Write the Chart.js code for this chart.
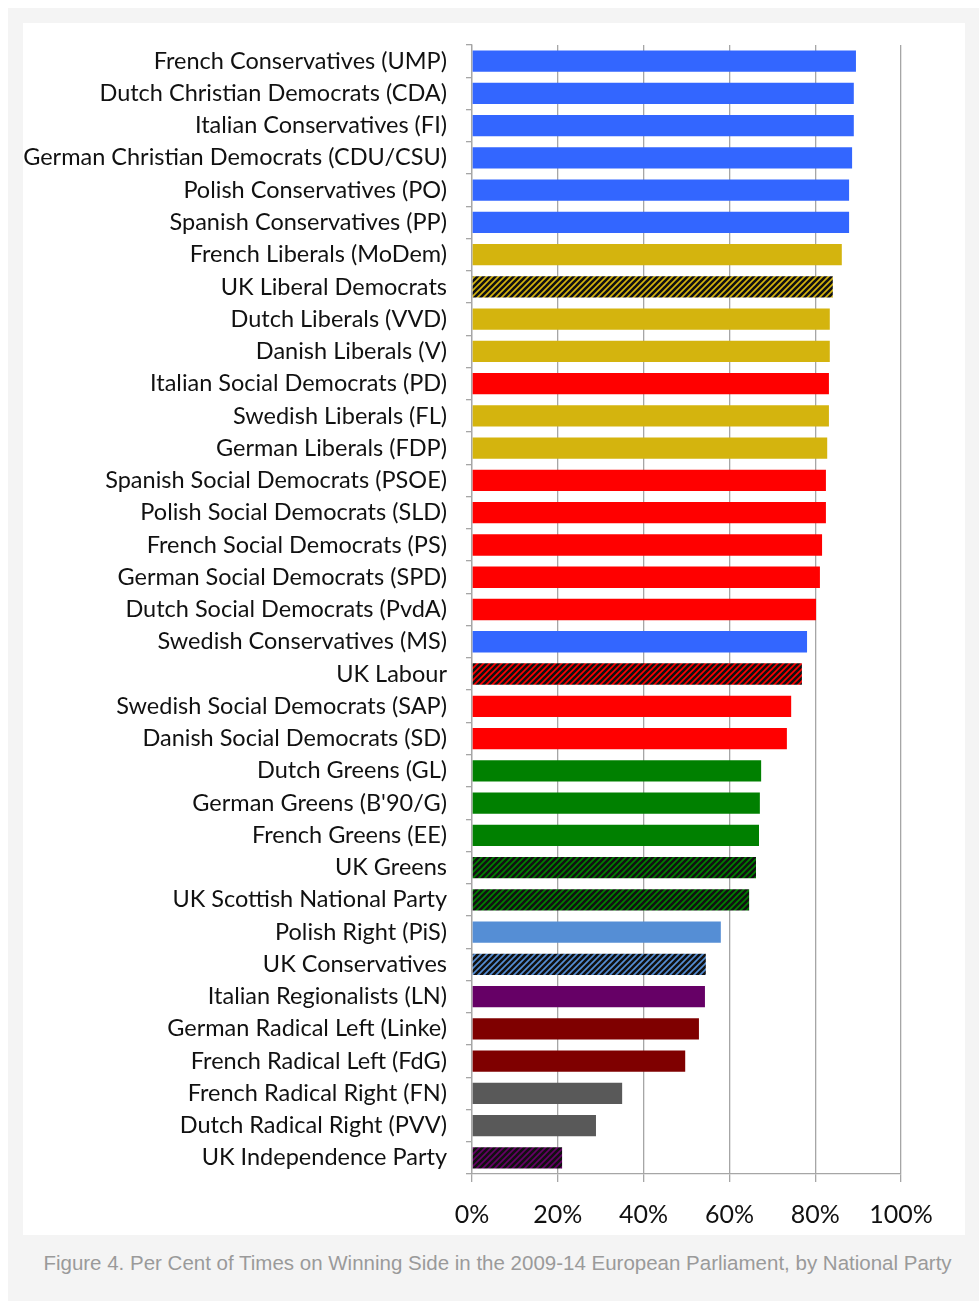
<!DOCTYPE html>
<html>
<head>
<meta charset="utf-8">
<script src="https://cdn.jsdelivr.net/npm/chart.js@4.4.1/dist/chart.umd.min.js"></script>
<style>
  html, body { margin: 0; padding: 0; background: #fff; }
  #panel {
    position: absolute; left: 8px; top: 8px; width: 971px; height: 1293px;
    background: #f4f4f4;
  }
  #box {
    position: absolute; left: 15px; top: 15px; width: 942px; height: 1212px;
    background: #fff;
  }
  #caption {
    position: absolute; left: 4px; top: 1243px; width: 971px; text-align: center;
    font-family: "Liberation Sans", Arial, sans-serif; font-size: 20.5px; color: #9a9a9a;
  }
</style>
</head>
<body>
<div id="panel">
  <div id="box"><canvas id="chart-canvas" width="942" height="1212"></canvas></div>
  <div id="caption">Figure 4. Per Cent of Times on Winning Side in the 2009-14 European Parliament, by National Party</div>
</div>
<script>
// party names, top to bottom
var parties = [
  'French Conservatives (UMP)', 'Dutch Christian Democrats (CDA)', 'Italian Conservatives (FI)',
  'German Christian Democrats (CDU/CSU)', 'Polish Conservatives (PO)', 'Spanish Conservatives (PP)',
  'French Liberals (MoDem)', 'UK Liberal Democrats', 'Dutch Liberals (VVD)', 'Danish Liberals (V)',
  'Italian Social Democrats (PD)', 'Swedish Liberals (FL)', 'German Liberals (FDP)',
  'Spanish Social Democrats (PSOE)', 'Polish Social Democrats (SLD)', 'French Social Democrats (PS)',
  'German Social Democrats (SPD)', 'Dutch Social Democrats (PvdA)', 'Swedish Conservatives (MS)',
  'UK Labour', 'Swedish Social Democrats (SAP)', 'Danish Social Democrats (SD)', 'Dutch Greens (GL)',
  "German Greens (B'90/G)", 'French Greens (EE)', 'UK Greens', 'UK Scottish National Party',
  'Polish Right (PiS)', 'UK Conservatives', 'Italian Regionalists (LN)', 'German Radical Left (Linke)',
  'French Radical Left (FdG)', 'French Radical Right (FN)', 'Dutch Radical Right (PVV)',
  'UK Independence Party'
]

// per cent of times on winning side
var winPct = [
  89.5, 89.0, 89.0, 88.6, 87.9, 87.9,
  86.2, 84.1, 83.4, 83.4,
  83.2, 83.2, 82.8,
  82.5, 82.5, 81.6,
  81.1, 80.2, 78.1,
  76.9, 74.4, 73.4, 67.4,
  67.1, 66.9, 66.2, 64.6,
  58.0, 54.5, 54.3, 52.9,
  49.7, 35.0, 28.9,
  21.0
]

// party family
var family = [
  'cons', 'cons', 'cons', 'cons', 'cons', 'cons',
  'lib', 'lib', 'lib', 'lib',
  'soc', 'lib', 'lib',
  'soc', 'soc', 'soc',
  'soc', 'soc', 'cons',
  'soc', 'soc', 'soc', 'green',
  'green', 'green', 'green', 'green',
  'right', 'right', 'regional', 'left',
  'left', 'far', 'far',
  'ukip'
]

var xTicks = [0, 20, 40, 60, 80, 100]

var familyColor = {
  cons: '#3366ff',
  lib: '#d4b40e',
  soc: '#ff0000',
  green: '#008000',
  right: '#558ed5',
  regional: '#660066',
  left: '#7f0000',
  far: '#595959',
  ukip: '#660066'
}

// diagonal black stripes over the colour, used for UK parties
function hatch(color) {
  var c = document.createElement('canvas')
  c.width = 6
  c.height = 6
  var g = c.getContext('2d')
  g.fillStyle = color
  g.fillRect(0, 0, 6, 6)
  g.strokeStyle = '#111'
  g.lineWidth = 2.6
  g.beginPath()
  g.moveTo(-1, 7); g.lineTo(7, -1)
  g.moveTo(-1, 1); g.lineTo(1, -1)
  g.moveTo(5, 7); g.lineTo(7, 5)
  g.stroke()
  return document.getElementById('chart-canvas').getContext('2d').createPattern(c, 'repeat')
}

var barColors = parties.map(function (p, i) {
  var col = familyColor[family[i]]
  return p.indexOf('UK ') === 0 ? hatch(col) : col
})

var ctx = document.getElementById('chart-canvas').getContext('2d')

var chart = new Chart(ctx, {
  type: 'bar',
  data: {
    labels: parties,
    datasets: [{
      data: winPct,
      backgroundColor: barColors,
      borderWidth: 0,
      barPercentage: 0.66,
      categoryPercentage: 1
    }]
  },
  options: {
    indexAxis: 'y',
    responsive: false,
    animation: false,
    layout: { padding: { top: 22, right: 64, bottom: 0, left: 0 } },
    plugins: { legend: { display: false }, tooltip: { enabled: false } },
    scales: {
      x: {
        min: 0,
        max: 100,
        afterBuildTicks: function (scale) {
          scale.ticks = xTicks.map(function (v) { return { value: v } })
        },
        afterFit: function (scale) { scale.height = 61 },
        grid: { color: '#a6a6a6', lineWidth: 1.3, tickLength: 8 },
        border: { color: '#a6a6a6', width: 1.3 },
        ticks: {
          color: '#111',
          padding: 18,
          font: { family: 'Lato, "Open Sans", sans-serif', size: 25 },
          callback: function (v) { return v + '%' }
        }
      },
      y: {
        afterFit: function (scale) {
          scale.width = 449
          // labels sit in the middle of each band, no need for extra room at the ends
          scale.paddingTop = 0
          scale.paddingBottom = 0
        },
        grid: { drawOnChartArea: false, offset: true, tickLength: 6, color: '#a6a6a6', lineWidth: 1.3 },
        border: { color: '#a6a6a6', width: 1.3 },
        ticks: {
          color: '#111',
          padding: 19,
          autoSkip: false,
          font: { family: 'Lato, "Open Sans", sans-serif', size: 23.5 }
        }
      }
    }
  }
})
</script>
</body>
</html>
